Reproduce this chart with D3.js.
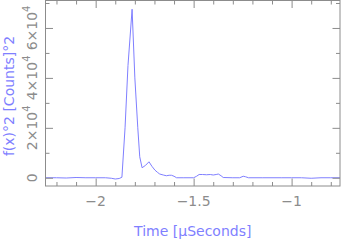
<!DOCTYPE html>
<html><head><meta charset="utf-8">
<script src="https://cdn.jsdelivr.net/npm/d3@7"></script>
<style>body{margin:0;background:#fff}svg{display:block}</style>
</head><body>
<script>
const timeValues = [-2.256,-2.2,-2.15,-2.1,-2.05,-2.0,-1.95,-1.92,-1.9,-1.88,-1.866,-1.85,-1.835,-1.814,-1.8,-1.785,-1.775,-1.763,-1.745,-1.728,-1.713,-1.698,-1.685,-1.673,-1.655,-1.639,-1.625,-1.613,-1.6,-1.587,-1.55,-1.5,-1.485,-1.472,-1.455,-1.434,-1.415,-1.4,-1.385,-1.374,-1.36,-1.349,-1.3,-1.265,-1.247,-1.235,-1.22,-1.15,-1.1,-1.05,-1.0,-0.95,-0.9,-0.85,-0.8,-0.753];
const powerValues = [0,0,-100,100,0,0,0,-200,-500,-300,200,20000,45000,67500,40000,20000,8400,4000,5000,6400,4600,3100,2200,1500,1100,800,1000,1000,600,0,0,0,600,1300,1300,1200,1300,1100,1300,1500,800,100,0,0,600,400,0,0,0,0,0,0,-200,0,0,0];
const xTicks = [-2,-1.5,-1];
const xTickLabels = ["\u22122","\u22121.5","\u22121"];
const yTicks = [0,20000,40000,60000];
const yTickMantissa = ["0","2\u00d710","4\u00d710","6\u00d710"];
const yTickExponent = ["","4","4","4"];

const W=341,H=240;
const L=45.5,R=340,T=0.5,B=186;
const svg=d3.select("body").append("svg").attr("width",W).attr("height",H);
const x=d3.scaleLinear().domain([-2.256,-0.753]).range([L,R]);
const y=d3.scaleLinear().domain([-3300,71000]).range([B,T]);
const gray="#8c8c8c", blue="#7f7fff";
const font="DejaVu Sans";

// line
svg.append("path").datum(timeValues.map((t,i)=>[t,powerValues[i]]))
  .attr("fill","none").attr("stroke",blue).attr("stroke-width",1)
  .attr("d",d3.line().x(d=>x(d[0])).y(d=>y(d[1])));

// frame
svg.append("rect").attr("x",L).attr("y",T).attr("width",R-L).attr("height",B-T)
  .attr("fill","none").attr("stroke",gray).attr("stroke-width",1);

// axes with inward ticks
const xMinor=d3.range(-2.2,-0.75,0.1).map(v=>+v.toFixed(2));
function drawX(g,orient){
  const ax=(orient==="bottom"?d3.axisTop(x):d3.axisBottom(x));
  g.call(ax.tickValues(xMinor).tickSize(4).tickFormat(""));
  g.select(".domain").remove();
  g.selectAll("line").attr("stroke",gray);
  g.selectAll(".tick").filter(d=>xTicks.some(v=>Math.abs(v-d)<1e-6)).select("line").attr(orient==="bottom"?"y2":"y2",orient==="bottom"?-7.5:7.5);
}
drawX(svg.append("g").attr("transform",`translate(0,${B})`),"bottom");
drawX(svg.append("g").attr("transform",`translate(0,${T})`),"top");

const yMinor=d3.range(0,71000,10000);
function drawY(g,orient){
  const ax=(orient==="left"?d3.axisRight(y):d3.axisLeft(y));
  g.call(ax.tickValues(yMinor).tickSize(4).tickFormat(""));
  g.select(".domain").remove();
  g.selectAll("line").attr("stroke",gray);
  g.selectAll(".tick").filter(d=>yTicks.includes(d)).select("line").attr("x2",orient==="left"?7.5:-7.5);
}
drawY(svg.append("g").attr("transform",`translate(${L},0)`),"left");
drawY(svg.append("g").attr("transform",`translate(${R},0)`),"right");

// x tick labels
svg.append("g").selectAll("text").data(xTicks).join("text")
  .attr("x",d=>x(d)).attr("y",206).attr("text-anchor","middle")
  .attr("font-family",font).attr("font-size",14).attr("fill",gray)
  .text((d,i)=>xTickLabels[i]);

// y tick labels (rotated)
yTicks.forEach((v,i)=>{
  const t=svg.append("text").attr("transform",`translate(37,${y(v)}) rotate(-90)`)
    .attr("text-anchor","middle").attr("font-family",font).attr("font-size",14).attr("fill",gray);
  t.append("tspan").text(yTickMantissa[i]);
  if(yTickExponent[i]) t.append("tspan").attr("dy",-7).attr("font-size",10).text(yTickExponent[i]);
});

// axis titles
svg.append("text").attr("x",(L+R)/2).attr("y",236).attr("text-anchor","middle")
  .attr("font-family",font).attr("font-size",14).attr("fill",blue).text("Time [\u03bcSeconds]");
svg.append("text").attr("transform",`translate(14,96) rotate(-90)`).attr("text-anchor","middle")
  .attr("font-family",font).attr("font-size",14).attr("fill",blue).text("f(x)\u00b02 [Counts]\u00b02");
</script>
</body></html>
